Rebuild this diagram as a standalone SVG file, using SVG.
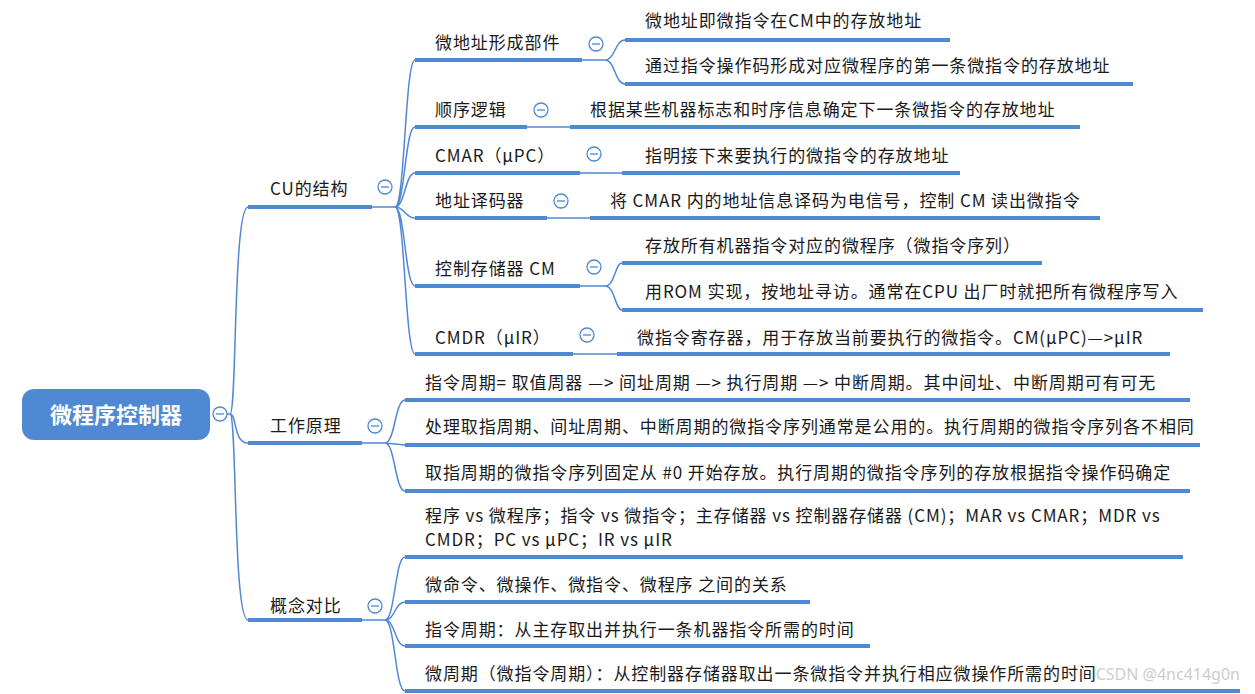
<svg xmlns="http://www.w3.org/2000/svg" width="1255" height="694" viewBox="0 0 1255 694">
<style>
.t{font-family:"Noto Sans CJK SC","Noto Sans",sans-serif;font-size:17px;letter-spacing:0.9px;fill:#1a1a1a}
.ul{stroke:#4f88d3;stroke-width:4;fill:none}
.c{stroke:#4f88d3;stroke-width:1.5;fill:none}
.tg circle{fill:#fff;stroke:#4f88d3;stroke-width:1.3}
.tg line{stroke:#4f88d3;stroke-width:1.3}
</style>
<rect width="1255" height="694" fill="#fff"/>
<g id="connectors">
<path class="c" d="M227 414 L230 414 C237 414 233 207 248 207 M230 414 C237 414 233 443 248 443 M230 414 C237 414 233 620 248 620"/>
<path class="c" d="M372 207 L395 207 M395 207 C405 207 405 60 415 60 M395 207 C405 207 405 127 415 127 M395 207 C405 207 405 173 415 173 M395 207 C405 207 405 218 415 218 M395 207 C405 207 405 286 415 286 M395 207 C405 207 405 354 415 354"/>
<path class="c" d="M582 60 L605 60 C615 60 615 40 625 40 M605 60 C615 60 615 84 625 84"/>
<path class="c" d="M527 127 L570 127 M580 173 L622 173 M547 218 L590 218 M573 354 L617 354"/>
<path class="c" d="M580 286 L605 286 C615 286 615 263 622 263 M605 286 C615 286 615 310 622 310"/>
<path class="c" d="M362 443 L385 443 C395 443 395 400 405 400 M385 443 L405 445 M385 443 C395 443 395 491 405 491"/>
<path class="c" d="M362 620 L385 620 C395 620 395 557 405 557 M385 620 C395 620 395 602 405 602 M385 620 C395 620 395 646 405 646 M385 620 C395 620 395 691 405 691"/>
</g>
<g id="root">
<rect x="22" y="389" width="188" height="51" rx="12" fill="#5089d3"/>
<text x="116" y="423" text-anchor="middle" font-family="Noto Sans CJK SC,sans-serif" font-size="22" font-weight="bold" fill="#fff">微程序控制器</text>
<g class="tg"><circle cx="220" cy="414" r="7"/><line x1="216" y1="414" x2="224" y2="414"/></g>
</g>
<g id="n-cu"><path class="ul" d="M248 207H372"/><text class="t" x="270" y="195">CU的结构</text><g class="tg"><circle cx="385" cy="187" r="7"/><line x1="381" y1="187" x2="389" y2="187"/></g></g>
<g id="n-work"><path class="ul" d="M248 443H362"/><text class="t" x="270" y="432">工作原理</text><g class="tg"><circle cx="375" cy="426" r="7"/><line x1="371" y1="426" x2="379" y2="426"/></g></g>
<g id="n-cmp"><path class="ul" d="M248 620H362"/><text class="t" x="270" y="612">概念对比</text><g class="tg"><circle cx="375" cy="606" r="7"/><line x1="371" y1="606" x2="379" y2="606"/></g></g>

<g id="n-wd"><path class="ul" d="M415 60H582"/><text class="t" x="435" y="49">微地址形成部件</text><g class="tg"><circle cx="596" cy="44" r="7"/><line x1="592" y1="44" x2="600" y2="44"/></g></g>
<g id="n-wd1"><path class="ul" d="M625 40H950"/><text class="t" x="645" y="27">微地址即微指令在CM中的存放地址</text></g>
<g id="n-wd2"><path class="ul" d="M625 84H1133"/><text class="t" x="645" y="72">通过指令操作码形成对应微程序的第一条微指令的存放地址</text></g>
<g id="n-sx"><path class="ul" d="M415 127H527"/><text class="t" x="435" y="116">顺序逻辑</text><g class="tg"><circle cx="541" cy="110" r="7"/><line x1="537" y1="110" x2="545" y2="110"/></g></g>
<g id="n-sx1"><path class="ul" d="M570 127H1080"/><text class="t" x="590" y="116">根据某些机器标志和时序信息确定下一条微指令的存放地址</text></g>
<g id="n-cmar"><path class="ul" d="M415 173H580"/><text class="t" x="435" y="162">CMAR（μPC）</text><g class="tg"><circle cx="594" cy="154" r="7"/><line x1="590" y1="154" x2="598" y2="154"/></g></g>
<g id="n-cmar1"><path class="ul" d="M622 173H960"/><text class="t" x="645" y="162">指明接下来要执行的微指令的存放地址</text></g>
<g id="n-dec"><path class="ul" d="M415 218H547"/><text class="t" x="435" y="207">地址译码器</text><g class="tg"><circle cx="561" cy="201" r="7"/><line x1="557" y1="201" x2="565" y2="201"/></g></g>
<g id="n-dec1"><path class="ul" d="M590 218H1100"/><text class="t" x="610" y="207">将 CMAR 内的地址信息译码为电信号，控制 CM 读出微指令</text></g>
<g id="n-cm"><path class="ul" d="M415 286H580"/><text class="t" x="435" y="275">控制存储器 CM</text><g class="tg"><circle cx="594" cy="267" r="7"/><line x1="590" y1="267" x2="598" y2="267"/></g></g>
<g id="n-cm1"><path class="ul" d="M622 263H1042"/><text class="t" x="645" y="252">存放所有机器指令对应的微程序（微指令序列）</text></g>
<g id="n-cm2"><path class="ul" d="M622 310H1203"/><text class="t" x="645" y="298">用ROM 实现，按地址寻访。通常在CPU 出厂时就把所有微程序写入</text></g>
<g id="n-cmdr"><path class="ul" d="M415 354H573"/><text class="t" x="435" y="344">CMDR（μIR）</text><g class="tg"><circle cx="587" cy="335" r="7"/><line x1="583" y1="335" x2="591" y2="335"/></g></g>
<g id="n-cmdr1"><path class="ul" d="M617 354H1170"/><text class="t" x="637" y="344">微指令寄存器，用于存放当前要执行的微指令。CM(μPC)—&gt;μIR</text></g>

<g id="n-w1"><path class="ul" d="M405 400H1190"/><text class="t" x="425" y="389">指令周期= 取值周器 —&gt; 间址周期 —&gt; 执行周期 —&gt; 中断周期。其中间址、中断周期可有可无</text></g>
<g id="n-w2"><path class="ul" d="M405 445H1200"/><text class="t" x="425" y="433">处理取指周期、间址周期、中断周期的微指令序列通常是公用的。执行周期的微指令序列各不相同</text></g>
<g id="n-w3"><path class="ul" d="M405 491H1190"/><text class="t" x="425" y="479">取指周期的微指令序列固定从 #0 开始存放。执行周期的微指令序列的存放根据指令操作码确定</text></g>

<g id="n-c1"><path class="ul" d="M405 557H1183"/><text class="t" x="425" y="522">程序 vs 微程序；指令 vs 微指令；主存储器 vs 控制器存储器 (CM)；MAR vs CMAR；MDR vs</text><text class="t" x="425" y="546">CMDR；PC vs μPC；IR vs μIR</text></g>
<g id="n-c2"><path class="ul" d="M405 602H810"/><text class="t" x="425" y="591">微命令、微操作、微指令、微程序 之间的关系</text></g>
<g id="n-c3"><path class="ul" d="M405 646H870"/><text class="t" x="425" y="636">指令周期：从主存取出并执行一条机器指令所需的时间</text></g>
<g id="n-c4"><path class="ul" d="M405 691H1240"/><text class="t" x="425" y="680">微周期（微指令周期）：从控制器存储器取出一条微指令并执行相应微操作所需的时间</text></g>
<text x="1240" y="680" text-anchor="end" font-family="Noto Sans,sans-serif" font-size="16" fill="#c8c8c8" opacity="0.9">CSDN @4nc414g0n</text>
</svg>
